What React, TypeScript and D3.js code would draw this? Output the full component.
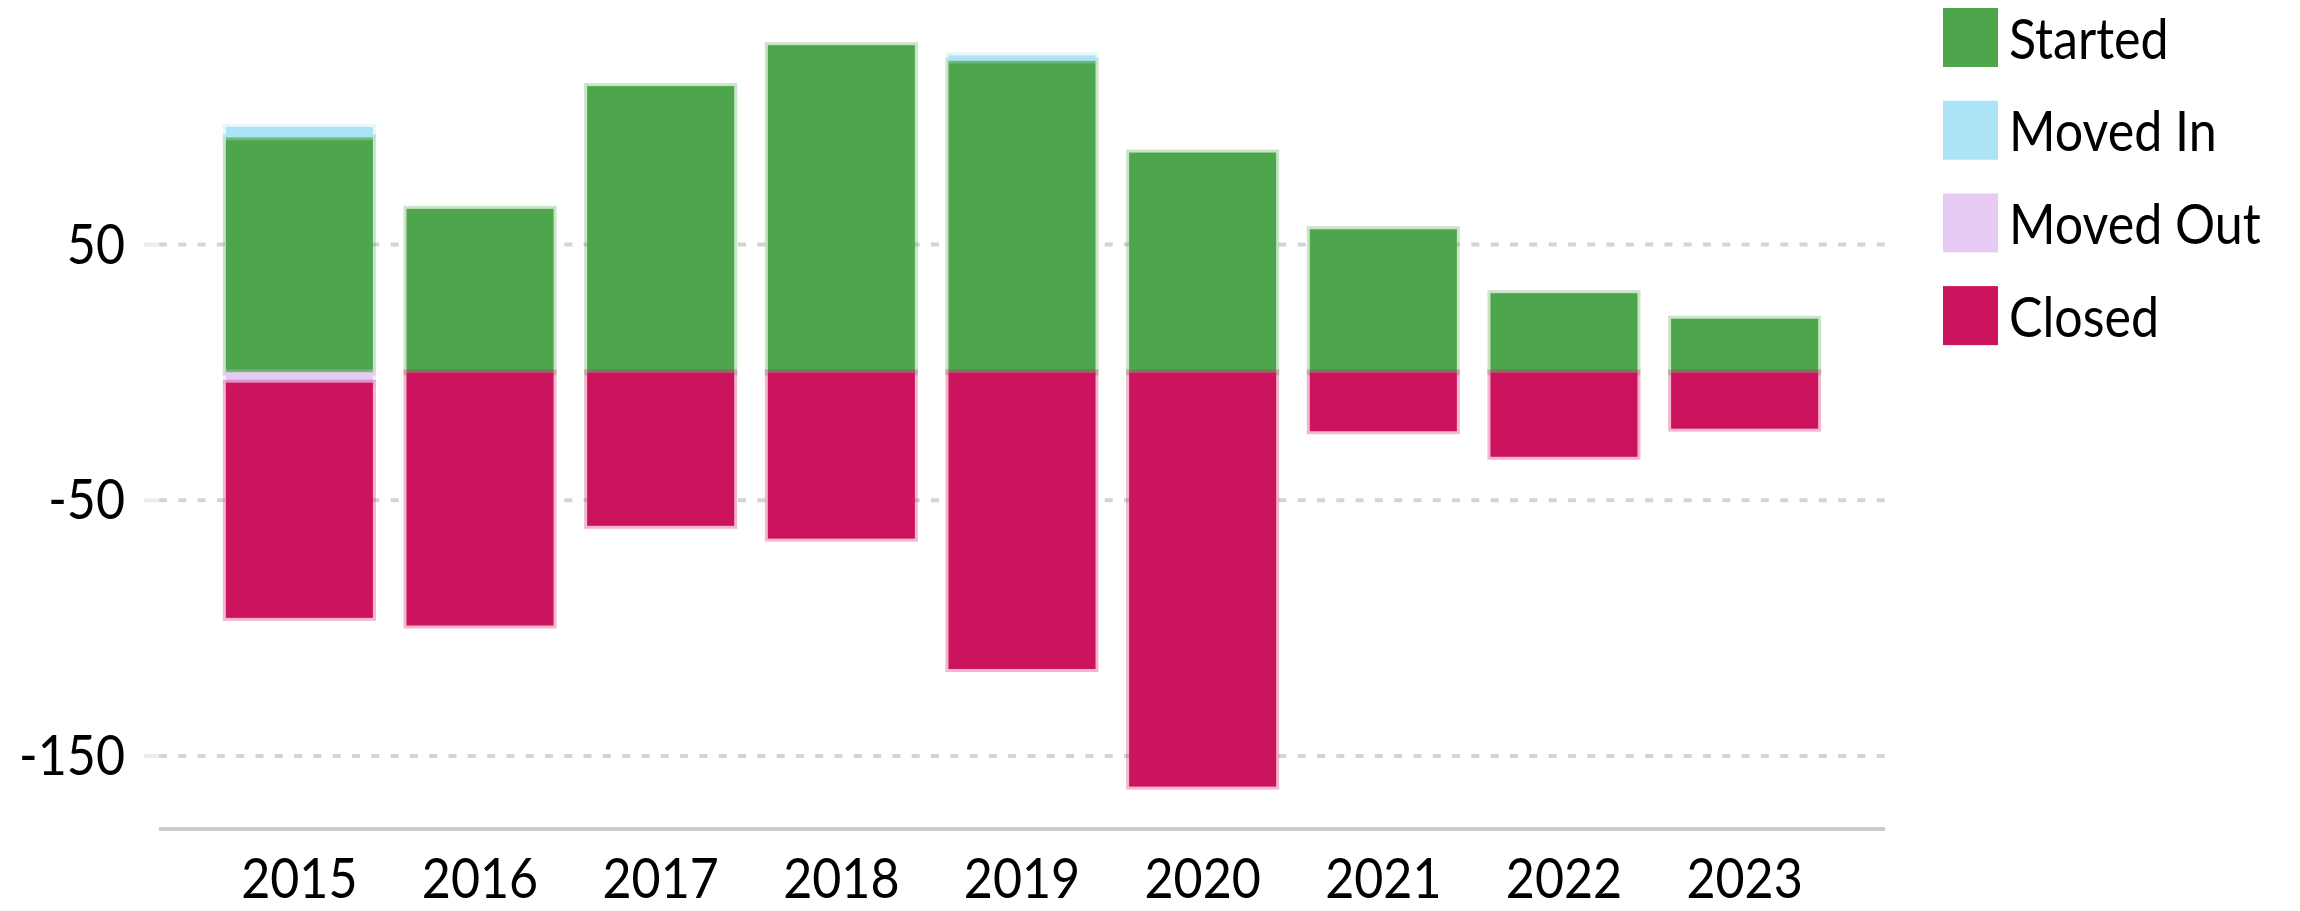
import React from 'react';
import * as d3 from 'd3';

const YEARS = ['2015', '2016', '2017', '2018', '2019', '2020', '2021', '2022', '2023'];
const STARTED = [92, 64, 112, 128, 122, 86, 56, 31, 21];
const MOVED_IN = [4, 0, 0, 0, 2, 0, 0, 0, 0];
const MOVED_OUT = [4, 0, 0, 0, 0, 0, 0, 0, 0];
const CLOSED = [92, 99, 60, 65, 116, 162, 23, 33, 22];
const SERIES = ['Started', 'Moved In', 'Moved Out', 'Closed'];
const COLORS = ['#4ea64c', '#ade3f6', '#e8cbf5', '#cc135e'];
const Y_TICKS = [50, -50, -150];

const W = 2300;
const H = 911;
const FONT = 'Lato, "Open Sans", sans-serif';
const FS = 57;
const SX = 0.88;

export default function App() {
  const rows = YEARS.map((year, i) => ({
    year,
    Started: STARTED[i],
    'Moved In': MOVED_IN[i],
    'Moved Out': -MOVED_OUT[i],
    Closed: -CLOSED[i],
  }));

  const x = d3
    .scaleBand<string>()
    .domain(YEARS)
    .range([159, 1885])
    .paddingInner(0.186)
    .paddingOuter(0.37);

  const y = d3.scaleLinear().domain([-150, 50]).range([755.9, 244.6]);

  const stacked = d3
    .stack<any>()
    .keys(SERIES)
    .offset(d3.stackOffsetDiverging)(rows);

  const color = d3.scaleOrdinal<string, string>().domain(SERIES).range(COLORS);

  return (
    <svg
      width={W}
      height={H}
      style={{ position: 'fixed', left: 0, top: 0, display: 'block', background: '#fff' }}
      fontFamily={FONT}
    >
      {/* grid lines */}
      {Y_TICKS.map((t) => (
        <g key={'g' + t}>
          <line x1={144} x2={159} y1={y(t)} y2={y(t)} stroke="#ececec" strokeWidth={4} />
          <line
            x1={159}
            x2={1885}
            y1={y(t)}
            y2={y(t)}
            stroke="#d4d4d4"
            strokeWidth={4}
            strokeDasharray="8 11.3"
          />
        </g>
      ))}

      {/* y tick labels */}
      {Y_TICKS.map((t) => (
        <text
          key={'t' + t}
          transform={`translate(125,${y(t) + 19}) scale(${SX},1)`}
          textAnchor="end"
          fontSize={FS}
          fill="#000"
        >
          {String(t)}
        </text>
      ))}

      {/* bars */}
      {stacked.map((layer) => (
        <g key={layer.key}>
          {layer.map((d, i) => {
            const y0 = y(d[0]);
            const y1 = y(d[1]);
            const top = Math.min(y0, y1);
            const h = Math.abs(y1 - y0);
            if (h < 0.01) return null;
            return (
              <rect
                key={i}
                x={x(YEARS[i])}
                y={top}
                width={x.bandwidth()}
                height={h}
                fill={color(layer.key)}
                stroke={color(layer.key)}
                strokeOpacity={0.3}
                strokeWidth={6}
              />
            );
          })}
        </g>
      ))}

      {/* x axis line */}
      <line x1={159} x2={1885} y1={829} y2={829} stroke="#cccccc" strokeWidth={4} />

      {/* x tick labels */}
      {YEARS.map((yr) => (
        <text
          key={yr}
          transform={`translate(${(x(yr) as number) + x.bandwidth() / 2},898) scale(${SX},1)`}
          textAnchor="middle"
          fontSize={FS}
          fill="#000"
        >
          {yr}
        </text>
      ))}

      {/* legend */}
      {SERIES.map((s, i) => (
        <g key={s} transform={`translate(1943,${8 + i * 92.7})`}>
          <rect width={55} height={59} fill={color(s)} />
          <text
            transform={`translate(66,50.5) scale(${SX},1)`}
            fontSize={FS}
            fill="#000"
          >
            {s}
          </text>
        </g>
      ))}
    </svg>
  );
}
